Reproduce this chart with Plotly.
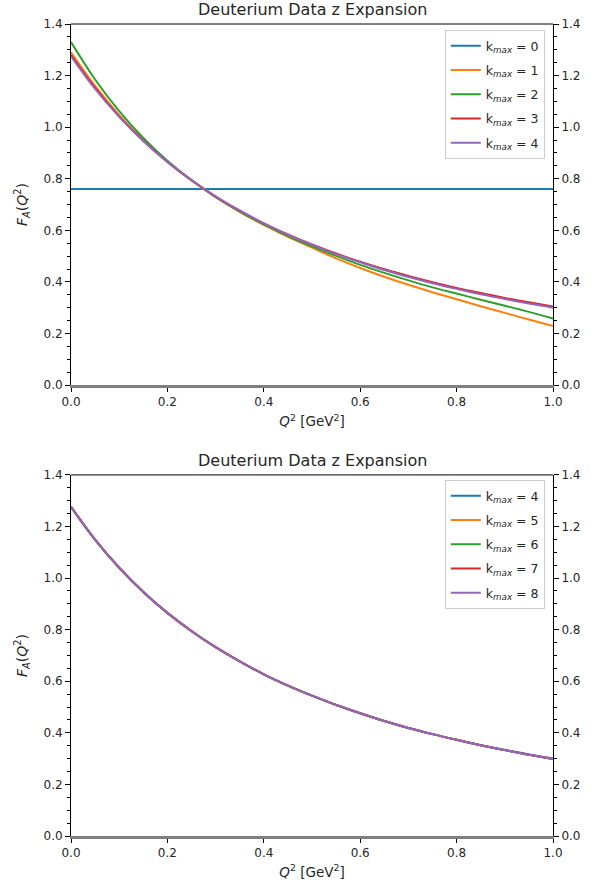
import plotly.graph_objects as go

# ---------------- data ----------------
q2 = [0.00, 0.05, 0.10, 0.15, 0.20, 0.25, 0.30, 0.35, 0.40, 0.45, 0.50,
      0.55, 0.60, 0.65, 0.70, 0.75, 0.80, 0.85, 0.90, 0.95, 1.00]

top_labels = ["0", "1", "2", "3", "4"]
k0 = [0.760] * 21
k1 = [1.290, 1.160, 1.047, 0.950, 0.866, 0.793, 0.729, 0.672, 0.621, 0.575, 0.533,
      0.491, 0.454, 0.420, 0.389, 0.360, 0.333, 0.306, 0.280, 0.254, 0.229]
k2 = [1.330, 1.185, 1.062, 0.958, 0.870, 0.795, 0.730, 0.673, 0.623, 0.578, 0.538,
      0.501, 0.466, 0.435, 0.406, 0.379, 0.355, 0.331, 0.308, 0.284, 0.258]
k3 = [1.280, 1.152, 1.042, 0.947, 0.865, 0.794, 0.731, 0.676, 0.627, 0.584, 0.545,
      0.510, 0.478, 0.449, 0.423, 0.399, 0.377, 0.357, 0.338, 0.321, 0.305]
k4 = [1.275, 1.148, 1.040, 0.946, 0.865, 0.795, 0.732, 0.677, 0.627, 0.583, 0.544,
      0.508, 0.476, 0.446, 0.419, 0.395, 0.373, 0.352, 0.334, 0.316, 0.300]
top_series = [k0, k1, k2, k3, k4]

bot_labels = ["4", "5", "6", "7", "8"]
k5 = [1.276, 1.149, 1.040, 0.946, 0.865, 0.795, 0.732, 0.677, 0.627, 0.583, 0.544,
      0.508, 0.476, 0.446, 0.419, 0.395, 0.373, 0.352, 0.333, 0.315, 0.299]
k6 = [1.277, 1.149, 1.040, 0.946, 0.865, 0.794, 0.732, 0.677, 0.627, 0.583, 0.544,
      0.508, 0.476, 0.446, 0.419, 0.395, 0.373, 0.352, 0.333, 0.315, 0.298]
k7 = [1.277, 1.149, 1.040, 0.946, 0.865, 0.794, 0.732, 0.677, 0.627, 0.583, 0.544,
      0.508, 0.476, 0.446, 0.419, 0.395, 0.373, 0.352, 0.333, 0.315, 0.298]
k8 = [1.276, 1.149, 1.040, 0.946, 0.865, 0.795, 0.732, 0.677, 0.627, 0.583, 0.544,
      0.508, 0.476, 0.446, 0.419, 0.395, 0.373, 0.352, 0.333, 0.315, 0.298]
bot_series = [k4, k5, k6, k7, k8]

colors = ["#1f77b4", "#ff7f0e", "#2ca02c", "#d62728", "#9467bd"]
title_text = "Deuterium Data z Expansion"
x_ticks = [0.0, 0.2, 0.4, 0.6, 0.8, 1.0]
y_ticks = [0.0, 0.2, 0.4, 0.6, 0.8, 1.0, 1.2, 1.4]

FONT = "DejaVu Sans"
TXT = "#262626"

fig = go.Figure()

for i, (lab, ys, c) in enumerate(zip(top_labels, top_series, colors)):
    fig.add_trace(go.Scatter(x=q2, y=ys, mode="lines", line=dict(color=c, width=2, shape="spline"),
                             name="k<sub><i>max</i></sub> = " + lab, xaxis="x", yaxis="y",
                             legend="legend", legendgroup="t%d" % i))
for i, (lab, ys, c) in enumerate(zip(bot_labels, bot_series, colors)):
    fig.add_trace(go.Scatter(x=q2, y=ys, mode="lines", line=dict(color=c, width=2, shape="spline"),
                             name="k<sub><i>max</i></sub> = " + lab, xaxis="x2", yaxis="y2",
                             legend="legend2", legendgroup="b%d" % i))

# invisible traces to activate right-hand axes
fig.add_trace(go.Scatter(x=[0, 1], y=[0, 0], mode="lines", opacity=0, showlegend=False,
                         hoverinfo="skip", xaxis="x", yaxis="y3"))
fig.add_trace(go.Scatter(x=[0, 1], y=[0, 0], mode="lines", opacity=0, showlegend=False,
                         hoverinfo="skip", xaxis="x2", yaxis="y4"))

tickfont = dict(family=FONT, size=12, color=TXT)

def xax(anchor):
    return dict(range=[0, 1], tickvals=x_ticks, tickformat=".1f", ticks="outside", ticklen=4,
                tickcolor="black", showline=True, linecolor="gray", linewidth=2.5, mirror=False,
                showgrid=False, zeroline=False, anchor=anchor, tickfont=tickfont, automargin=False,
                title=dict(text="<i>Q</i><sup>2</sup> [GeV<sup>2</sup>]",
                           font=dict(family=FONT, size=13.5, color=TXT), standoff=9))

def yax(domain, side="left", overlaying=None, anchor="x", title=True):
    d = dict(range=[0, 1.4], tickvals=y_ticks, tickformat=".1f", ticks="outside", ticklen=5,
             tickcolor="black", showline=True, linecolor="black", linewidth=1, showgrid=False,
             zeroline=False, domain=domain, side=side, anchor=anchor, tickfont=tickfont,
             automargin=False,
             minor=dict(ticks="outside", dtick=0.05, ticklen=3, tickcolor="black", showgrid=False))
    if overlaying:
        d["overlaying"] = overlaying
    if title:
        d["title"] = dict(text="<i>F</i><sub><i>A</i></sub>(<i>Q</i><sup>2</sup>)",
                          font=dict(family=FONT, size=14, color=TXT), standoff=12)
    return d

top_dom = [0.5553, 1.0]
bot_dom = [0.0, 0.4447]

legend_common = dict(xanchor="right", yanchor="top", bgcolor="rgba(255,255,255,0.8)",
                     bordercolor="#cccccc", borderwidth=1,
                     font=dict(family=FONT, size=12.5, color=TXT),
                     tracegroupgap=5, itemwidth=30)

fig.update_layout(
    width=598, height=884,
    margin=dict(l=71, r=45, t=24, b=48, autoexpand=False),
    paper_bgcolor="white", plot_bgcolor="white",
    font=dict(family=FONT, size=12, color=TXT),
    xaxis=xax("y"),
    xaxis2=xax("y2"),
    yaxis=yax(top_dom, anchor="x"),
    yaxis2=yax(bot_dom, anchor="x2"),
    yaxis3=yax(top_dom, side="right", overlaying="y", anchor="x", title=False),
    yaxis4=yax(bot_dom, side="right", overlaying="y2", anchor="x2", title=False),
    legend=dict(x=0.983, y=0.9926, **legend_common),
    legend2=dict(x=0.983, y=0.4384, **legend_common),
    showlegend=True,
)

fig.update_layout(annotations=[
    dict(text=title_text, x=0.5, y=1.0, xref="x domain", yref="y domain", xanchor="center", yanchor="bottom",
         yshift=3, showarrow=False, font=dict(family=FONT, size=16, color=TXT)),
    dict(text=title_text, x=0.5, y=1.0, xref="x2 domain", yref="y2 domain", xanchor="center", yanchor="bottom",
         yshift=3, showarrow=False, font=dict(family=FONT, size=16, color=TXT)),
])

fig.update_layout(shapes=[
    dict(type="line", xref="x domain", yref="y domain", x0=0, x1=1, y0=1, y1=1,
         line=dict(color="black", width=1), layer="above"),
    dict(type="line", xref="x2 domain", yref="y2 domain", x0=0, x1=1, y0=1, y1=1,
         line=dict(color="black", width=1), layer="above"),
])

fig.write_html("out.html")
